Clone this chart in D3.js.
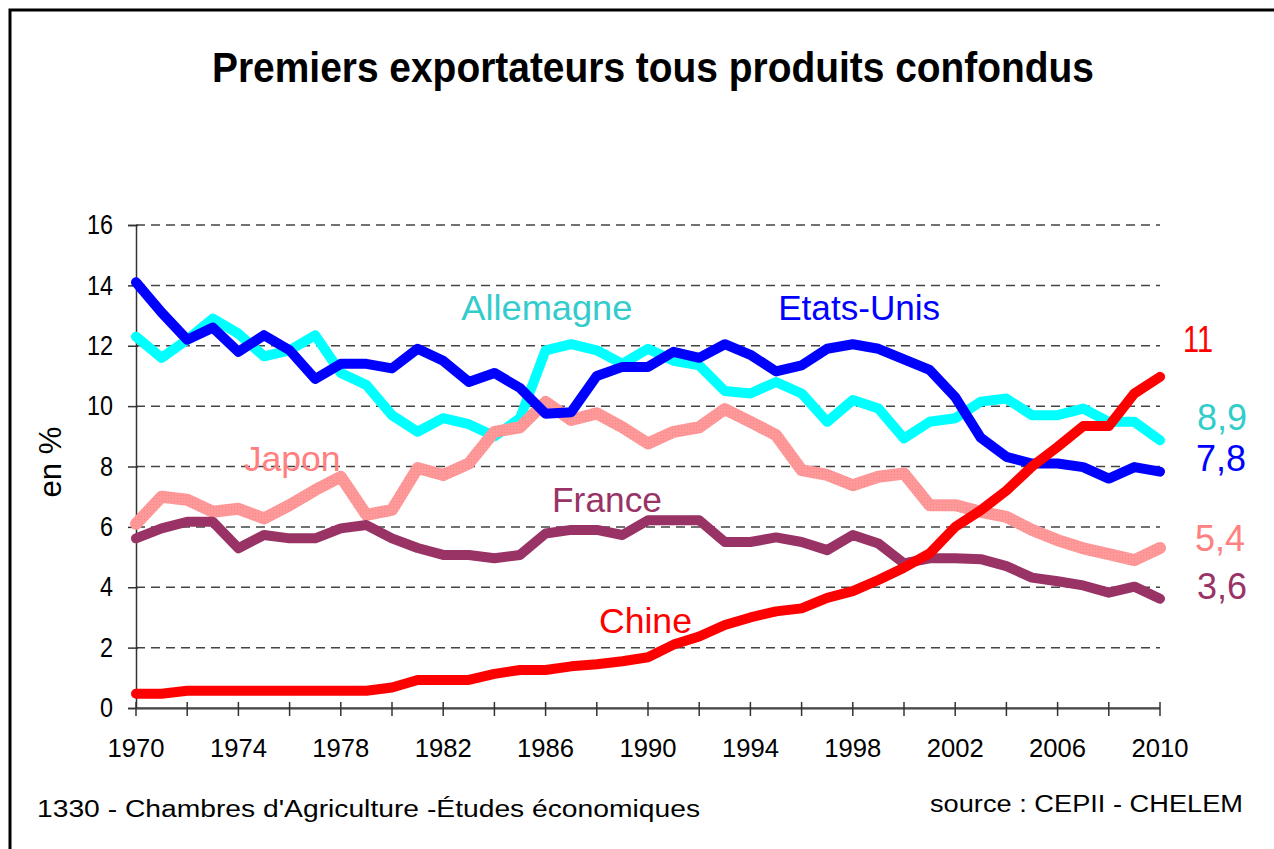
<!DOCTYPE html>
<html lang="fr">
<head>
<meta charset="utf-8">
<title>Premiers exportateurs tous produits confondus</title>
<script src="https://d3js.org/d3.v7.min.js"></script>
<style>
    body { margin: 0; background: #fff; }
    svg text { font-family: "Liberation Sans", Arial, sans-serif; }
    .narrow { font-family: "Liberation Sans Narrow", "Arial Narrow", "Liberation Sans", Arial, sans-serif; }
</style>
</head>
<body>
<div id="chart"></div>
<script>
    var width = 1274;
    var height = 849;

    // years 1970 -> 2010, parts des exportations mondiales (%)
    var years = d3.range(1970, 2011);

    var etatsUnis = [14.1, 13.1, 12.2, 12.6, 11.8, 12.35, 11.85, 10.9, 11.4, 11.4,
        11.25, 11.9, 11.5, 10.8, 11.1, 10.6, 9.75, 9.8, 11.0, 11.3,
        11.3, 11.8, 11.6, 12.05, 11.7, 11.15, 11.35, 11.9, 12.05, 11.9,
        11.55, 11.2, 10.3, 8.95, 8.32, 8.1, 8.1, 7.98, 7.6, 7.98, 7.83];

    var allemagne = [12.3, 11.6, 12.2, 12.9, 12.4, 11.65, 11.85, 12.35, 11.1, 10.7,
        9.7, 9.15, 9.6, 9.4, 9.0, 9.6, 11.85, 12.05, 11.85, 11.4,
        11.9, 11.5, 11.35, 10.5, 10.42, 10.8, 10.42, 9.48, 10.2, 9.92,
        8.93, 9.48, 9.6, 10.15, 10.25, 9.7, 9.7, 9.92, 9.48, 9.48, 8.87];

    var japon = [6.1, 7.0, 6.9, 6.5, 6.6, 6.28, 6.72, 7.22, 7.66, 6.4,
        6.56, 7.95, 7.72, 8.1, 9.15, 9.3, 10.14, 9.54, 9.76, 9.3,
        8.76, 9.15, 9.3, 9.9, 9.48, 9.04, 7.88, 7.72, 7.38, 7.66,
        7.77, 6.72, 6.72, 6.5, 6.33, 5.9, 5.56, 5.29, 5.1, 4.9, 5.3];

    var france = [5.62, 5.95, 6.17, 6.17, 5.29, 5.73, 5.62, 5.62, 5.95, 6.06,
        5.62, 5.3, 5.07, 5.07, 4.96, 5.07, 5.78, 5.9, 5.9, 5.73,
        6.22, 6.22, 6.22, 5.5, 5.5, 5.65, 5.5, 5.23, 5.73, 5.45,
        4.79, 4.96, 4.96, 4.93, 4.7, 4.32, 4.2, 4.06, 3.82, 4.02, 3.62];

    var chine = [0.47, 0.47, 0.57, 0.57, 0.57, 0.57, 0.57, 0.57, 0.57, 0.57,
        0.68, 0.93, 0.93, 0.93, 1.13, 1.26, 1.26, 1.38, 1.45, 1.55,
        1.68, 2.1, 2.37, 2.75, 3.0, 3.2, 3.3, 3.65, 3.87, 4.24,
        4.65, 5.12, 6.0, 6.55, 7.2, 8.0, 8.65, 9.34, 9.34, 10.42, 10.97];

    var yTicks = [0, 2, 4, 6, 8, 10, 12, 14, 16];
    var xLabelYears = d3.range(1970, 2011, 4);
    var xTickYears = d3.range(1970, 2011, 2);

    // last values written on the right
    var endLabels = ["11", "8,9", "7,8", "5,4", "3,6"];

    var series = [
        {name: "Allemagne", values: allemagne, line: "#00ffff", text: "#33cccc"},
        {name: "Japon", values: japon, line: "url(#pinkTexture)", text: "#ff8080"},
        {name: "France", values: france, line: "#993366", text: "#993366"},
        {name: "Etats-Unis", values: etatsUnis, line: "#0000ff", text: "#0000ff"},
        {name: "Chine", values: chine, line: "#ff0000", text: "#ff0000"}
    ];

    var svg = d3.select("#chart").append("svg")
        .attr("width", width)
        .attr("height", height);

    var defs = svg.append("defs");
    var pat = defs.append("pattern")
        .attr("id", "pinkTexture")
        .attr("patternUnits", "userSpaceOnUse")
        .attr("width", 3).attr("height", 3);
    pat.append("rect").attr("width", 3).attr("height", 3).attr("fill", "#ff9999");
    pat.append("rect").attr("width", 1).attr("height", 1).attr("fill", "#f28a8a");

    // frame
    svg.append("rect")
        .attr("x", 10).attr("y", 10)
        .attr("width", 1290).attr("height", 880)
        .attr("fill", "none")
        .attr("stroke", "#000")
        .attr("stroke-width", 3);

    svg.append("text")
        .attr("class", "narrow")
        .attr("x", 653).attr("y", 82)
        .attr("text-anchor", "middle")
        .attr("font-size", 42)
        .attr("font-weight", "bold")
        .attr("textLength", 882)
        .attr("lengthAdjust", "spacingAndGlyphs")
        .text("Premiers exportateurs tous produits confondus");

    var x = d3.scaleLinear().domain([1970, 2010]).range([136, 1160]);
    var y = d3.scaleLinear().domain([0, 16]).range([708, 225]);

    // dashed grid
    svg.append("g")
        .selectAll("line")
        .data(yTicks.filter(function(d) { return d > 0; }))
        .enter().append("line")
        .attr("x1", x(1970)).attr("x2", x(2010))
        .attr("y1", function(d) { return y(d); })
        .attr("y2", function(d) { return y(d); })
        .attr("stroke", "#444")
        .attr("stroke-width", 1.5)
        .attr("stroke-dasharray", "9,6");

    // y axis
    var yAxis = d3.axisLeft(y).tickValues(yTicks).tickSize(8).tickPadding(15)
        .tickFormat(d3.format("d"));
    var gy = svg.append("g").attr("transform", "translate(136,0)").call(yAxis);
    gy.select(".domain").attr("stroke", "#333").attr("stroke-width", 1.5);
    gy.selectAll(".tick line").attr("stroke", "#333").attr("stroke-width", 1.5).attr("x2", -8).attr("x1", 2);
    gy.selectAll("text")
        .attr("font-size", 27)
        .attr("fill", "#000")
        .attr("textLength", function(d) { return d >= 10 ? 26 : 13; })
        .attr("lengthAdjust", "spacingAndGlyphs")
        .attr("font-family", "Liberation Sans, Arial, sans-serif");

    // x axis
    var gx = svg.append("g").attr("transform", "translate(0,708)");
    gx.append("line")
        .attr("x1", x(1970)).attr("x2", x(2010))
        .attr("y1", 1).attr("y2", 1)
        .attr("stroke", "#999").attr("stroke-width", 2);
    gx.append("line")
        .attr("x1", x(1970)).attr("x2", x(2010))
        .attr("stroke", "#333").attr("stroke-width", 1.5);
    gx.selectAll("line.tk")
        .data(xTickYears)
        .enter().append("line")
        .attr("class", "tk")
        .attr("x1", function(d) { return x(d); })
        .attr("x2", function(d) { return x(d); })
        .attr("y1", -6).attr("y2", 8)
        .attr("stroke", "#333").attr("stroke-width", 1.5);
    gx.selectAll("text")
        .data(xLabelYears)
        .enter().append("text")
        .attr("x", function(d) { return x(d); })
        .attr("y", 49)
        .attr("text-anchor", "middle")
        .attr("font-size", 26)
        .attr("textLength", 57)
        .attr("lengthAdjust", "spacingAndGlyphs")
        .text(function(d) { return d; });

    svg.append("text")
        .attr("transform", "translate(61,462) rotate(-90)")
        .attr("text-anchor", "middle")
        .attr("font-size", 31)
        .attr("textLength", 71)
        .attr("lengthAdjust", "spacingAndGlyphs")
        .text("en %");

    // series lines
    var line = d3.line()
        .x(function(d, i) { return x(years[i]); })
        .y(function(d) { return y(d); });

    svg.append("g")
        .selectAll("path")
        .data(series)
        .enter().append("path")
        .attr("d", function(s) { return line(s.values); })
        .attr("fill", "none")
        .attr("stroke", function(s) { return s.line; })
        .attr("stroke-width", function(s) { return s.name === "Japon" ? 12 : 10; })
        .attr("stroke-linejoin", "round")
        .attr("stroke-linecap", "round");

    // series names inside the plot
    var nameLabels = [
        {name: "Allemagne", year: 1986.05, value: 12.85, w: 171},
        {name: "Etats-Unis", year: 1998.25, value: 12.85, w: 162},
        {name: "Japon", year: 1976.1, value: 7.85, w: 97},
        {name: "France", year: 1988.4, value: 6.5, w: 110},
        {name: "Chine", year: 1989.9, value: 2.5, w: 93}
    ];
    var colorOf = {};
    series.forEach(function(s) { colorOf[s.name] = s.text; });

    svg.append("g")
        .selectAll("text")
        .data(nameLabels)
        .enter().append("text")
        .attr("class", "narrow")
        .attr("x", function(d) { return x(d.year); })
        .attr("y", function(d) { return y(d.value); })
        .attr("text-anchor", "middle")
        .attr("font-size", 35)
        .attr("textLength", function(d) { return d.w; })
        .attr("lengthAdjust", "spacingAndGlyphs")
        .attr("fill", function(d) { return colorOf[d.name]; })
        .text(function(d) { return d.name; });

    // end values on the right
    var endInfo = [
        {label: endLabels[0], name: "Chine", value: 11.8, cx: 1198},
        {label: endLabels[1], name: "Allemagne", value: 9.2, cx: 1222},
        {label: endLabels[2], name: "Etats-Unis", value: 7.85, cx: 1221},
        {label: endLabels[3], name: "Japon", value: 5.2, cx: 1220},
        {label: endLabels[4], name: "France", value: 3.6, cx: 1222}
    ];
    svg.append("g")
        .selectAll("text")
        .data(endInfo)
        .enter().append("text")
        .attr("class", "narrow")
        .attr("x", function(d) { return d.cx; })
        .attr("y", function(d) { return y(d.value); })
        .attr("text-anchor", "middle")
        .attr("font-size", 37)
        .attr("textLength", function(d) { return d.label.length === 2 ? 30 : 50; })
        .attr("lengthAdjust", "spacingAndGlyphs")
        .attr("fill", function(d) { return colorOf[d.name]; })
        .text(function(d) { return d.label; });

    // footer
    svg.append("text")
        .attr("x", 37).attr("y", 817)
        .attr("font-size", 23)
        .attr("textLength", 663)
        .attr("lengthAdjust", "spacingAndGlyphs")
        .text("1330 - Chambres d'Agriculture -Études économiques");
    svg.append("text")
        .attr("x", 1243).attr("y", 812)
        .attr("text-anchor", "end")
        .attr("font-size", 23)
        .attr("textLength", 313)
        .attr("lengthAdjust", "spacingAndGlyphs")
        .text("source : CEPII - CHELEM");
</script>
</body>
</html>
